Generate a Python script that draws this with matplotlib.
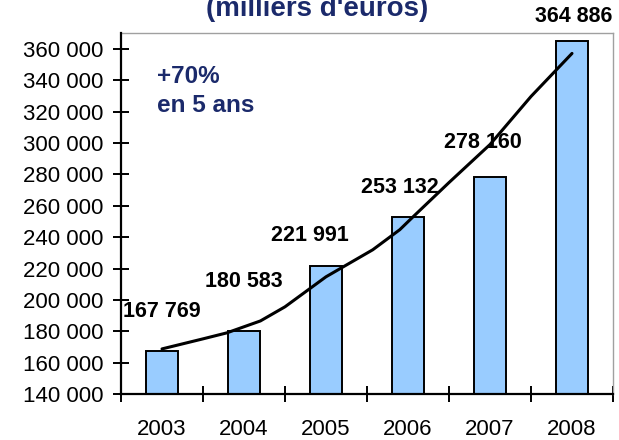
import matplotlib
matplotlib.use("Agg")
import matplotlib.pyplot as plt
from matplotlib.ticker import FuncFormatter, FixedLocator

plt.rcParams['font.family'] = ['Liberation Sans', 'DejaVu Sans']

# ---- data ----
years = ["2003", "2004", "2005", "2006", "2007", "2008"]
values = [167769, 180583, 221991, 253132, 278160, 364886]
value_labels = ["167 769", "180 583", "221 991", "253 132", "278 160", "364 886"]

# hand-drawn trend line (x in category units)
trend_x = [0.0, 0.5, 0.79, 1.2, 1.5, 2.0, 2.57, 2.9, 3.05, 3.5, 4.0, 4.5, 5.0]
trend_y = [168900, 175300, 179100, 186700, 195700, 214800, 232000,
           244800, 252400, 274800, 299000, 329600, 357000]

title_text = "(milliers d'euros)"
note_lines = ["+70%", "en 5 ans"]

# ---- layout ----
label_offsets = [(0, 39), (0, 49), (-16, 30), (-8, 29), (-7, 35), (2, 25)]
navy = '#1B2A6B'

fig = plt.figure(figsize=(6.19, 4.40), dpi=100)
ax = fig.add_axes([121/619, 1-394.3/440, (613-121)/619, (394.3-33)/440])

x = list(range(len(years)))
ax.bar(x, values, width=0.39, color='#99CCFF', edgecolor='black', linewidth=1.4, zorder=2)
ax.plot(trend_x, trend_y, color='black', linewidth=2.2, zorder=3,
        solid_capstyle='round', solid_joinstyle='round')

for xi, v, lab, (dx, dy) in zip(x, values, value_labels, label_offsets):
    ax.annotate(lab, xy=(xi, v), xytext=(dx, dy), textcoords='offset pixels',
                ha='center', va='center', fontsize=15.5, fontweight='bold',
                color='black', zorder=4, annotation_clip=False)

ax.set_xlim(-0.5, 5.5)
ax.set_ylim(140000, 370000)

ax.yaxis.set_major_locator(FixedLocator(list(range(140000, 360001, 20000))))
ax.yaxis.set_major_formatter(FuncFormatter(lambda v, p: f"{int(v):,}".replace(",", " ")))
ax.tick_params(axis='y', direction='inout', length=11.5, width=1.4, pad=7,
               labelsize=16, colors='black')

ax.xaxis.set_major_locator(FixedLocator([i - 0.5 for i in range(len(years) + 1)]))
ax.xaxis.set_major_formatter(FuncFormatter(lambda v, p: ""))
ax.xaxis.set_minor_locator(FixedLocator(x))
ax.set_xticklabels(years, minor=True)
ax.tick_params(axis='x', which='major', direction='inout', length=11, width=1.4)
ax.tick_params(axis='x', which='minor', length=0, pad=18, labelsize=16)

for s in ['left', 'bottom']:
    ax.spines[s].set_linewidth(1.6)
    ax.spines[s].set_color('black')
    ax.spines[s].set_zorder(5)
for s in ['top', 'right']:
    ax.spines[s].set_linewidth(1.0)
    ax.spines[s].set_color('#A0A0A0')

fig.text(317/619, 1-16/440, title_text, ha='center', va='baseline',
         fontsize=20, fontweight='bold', color=navy)
fig.text(157/619, 1-83/440, note_lines[0], ha='left', va='baseline',
         fontsize=17.5, fontweight='bold', color=navy)
fig.text(157/619, 1-112/440, note_lines[1], ha='left', va='baseline',
         fontsize=17.5, fontweight='bold', color=navy)

fig.savefig("out.png", dpi=100)
